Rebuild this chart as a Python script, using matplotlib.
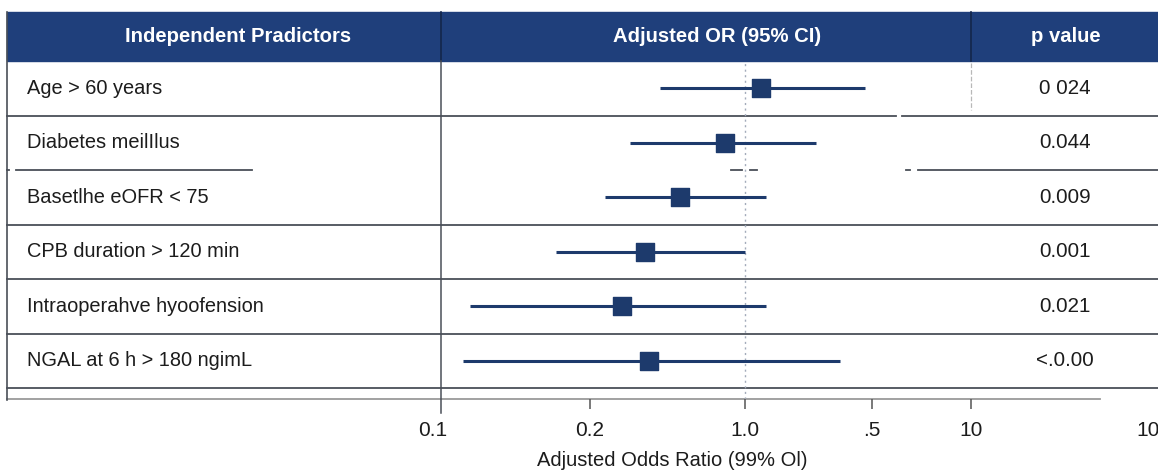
import numpy as np
import matplotlib.pyplot as plt
from matplotlib.patches import Rectangle
from matplotlib.transforms import ScaledTranslation

plt.rcParams['font.family'] = ['Liberation Sans', 'DejaVu Sans']

predictors = ["Age > 60 years", "Diabetes meilIlus", "Basetlhe eOFR < 75",
              "CPB duration > 120 min", "Intraoperahve hyoofension",
              "NGAL at 6 h > 180 ngimL"]
odds_ratio = [1.22, 0.81, 0.51, 0.353, 0.279, 0.369]
ci_low = [0.414, 0.303, 0.234, 0.171, 0.115, 0.111]
ci_high = [4.6, 2.46, 1.30, 1.0, 1.30, 3.33]
p_values = ["0 024", "0.044", "0.009", "0.001", "0.021", "<.0.00"]
headers = ["Independent Pradictors", "Adjusted OR (95% CI)", "p value"]
tick_values = [0.1, 0.2, 1.0, 5, 10, 100]
tick_labels = ["0.1", "0.2", "1.0", ".5", "10", "10"]
x_title = "Adjusted Odds Ratio (99% Ol)"

NAVY = "#1f3f7b"
MARK = "#1d3a6c"
TEXT = "#1c1c1c"
LINE = "#4a4f58"

W, H = 1158, 471
fig = plt.figure(figsize=(W / 100, H / 100), dpi=100)

# table layer in pixel coordinates
tab = fig.add_axes([0, 0, 1, 1])
tab.set_xlim(0, W)
tab.set_ylim(H, 0)
tab.axis('off')

top, row_h = 61, 54.5
n = len(predictors)

tab.add_patch(Rectangle((7, 12), W - 7, top - 12, color=NAVY, zorder=1))
for xc, txt in zip([238, 717, 1066], headers):
    tab.text(xc, 36, txt, color='white', fontsize=14.6, fontweight='bold',
             ha='center', va='center', zorder=3)
for xd in [441, 971]:
    tab.plot([xd, xd], [12, top], color="#14264a", lw=1.2, zorder=2)

# row separators (some broken like the original)
for k in range(1, n + 1):
    y = top + row_h * k
    if k == 1:
        segs = [(7, 896), (902, W)]
    elif k == 2:
        segs = [(7, 9), (16, 252), (731, 742), (750, 757), (906, 910), (918, W)]
    else:
        segs = [(7, W)]
    for a, b in segs:
        tab.plot([a, b], [y, y], color=LINE, lw=1.3, zorder=2)

tab.plot([7, 1100], [399, 399], color="#9a9a9a", lw=1.3, zorder=2)
tab.plot([7, 7], [12, 400], color=LINE, lw=1.2, zorder=2)
tab.plot([441, 441], [top, 413], color=LINE, lw=1.1, zorder=2)
tab.plot([971, 971], [63, 110], color="#b8b8b8", lw=0.9, ls='--', zorder=2)

for i, (lab, pv) in enumerate(zip(predictors, p_values)):
    yc = top + row_h * (i + 0.5)
    tab.text(27, yc, lab, color=TEXT, fontsize=14.4, ha='left', va='center')
    tab.text(1065, yc, pv, color=TEXT, fontsize=14.8, ha='center', va='center')

# forest plot layer
anchor_log = np.log10(tick_values)
anchor_pos = np.array([0, 150, 305, 432, 531, 708], dtype=float)


def forward(x):
    x = np.clip(np.asarray(x, dtype=float), 1e-6, None)
    return np.interp(np.log10(x), anchor_log, anchor_pos)


def inverse(p):
    return 10 ** np.interp(p, anchor_pos, anchor_log)


ax = fig.add_axes([440 / W, (H - 399) / H, 708 / W, (399 - top) / H])
ax.set_facecolor('none')
ax.set_xscale('function', functions=(forward, inverse))
ax.set_xlim(0.1, 100)
ax.set_ylim((399 - top) / row_h - 0.5, -0.5)

rows = np.arange(n)
ax.axvline(1.0, color="#a3abba", lw=1, ls=(0, (1.5, 2.5)), zorder=1)
ax.hlines(rows, ci_low, ci_high, color=MARK, lw=2.2, zorder=2)
ax.scatter(odds_ratio, rows, marker='s', s=150, color=MARK, zorder=3)

for s in ax.spines.values():
    s.set_visible(False)
ax.set_yticks([])
ax.set_xticks(tick_values)
ax.set_xticklabels(tick_labels)
ax.xaxis.set_minor_locator(plt.NullLocator())
ax.tick_params(axis='x', length=7, width=1.1, color="#555555", pad=9,
               labelsize=15, labelcolor=TEXT)
ticks = ax.xaxis.get_major_ticks()
for t in (ticks[0], ticks[-1]):
    t.tick1line.set_visible(False)
first = ax.get_xticklabels()[0]
first.set_transform(first.get_transform() + ScaledTranslation(-7 / 100, 0, fig.dpi_scale_trans))

ax.set_xlabel(x_title, fontsize=14.5, color=TEXT)
ax.xaxis.set_label_coords((672 - 440) / 708, -(451 - 399) / (399 - top))

fig.savefig("out.png", dpi=100)
